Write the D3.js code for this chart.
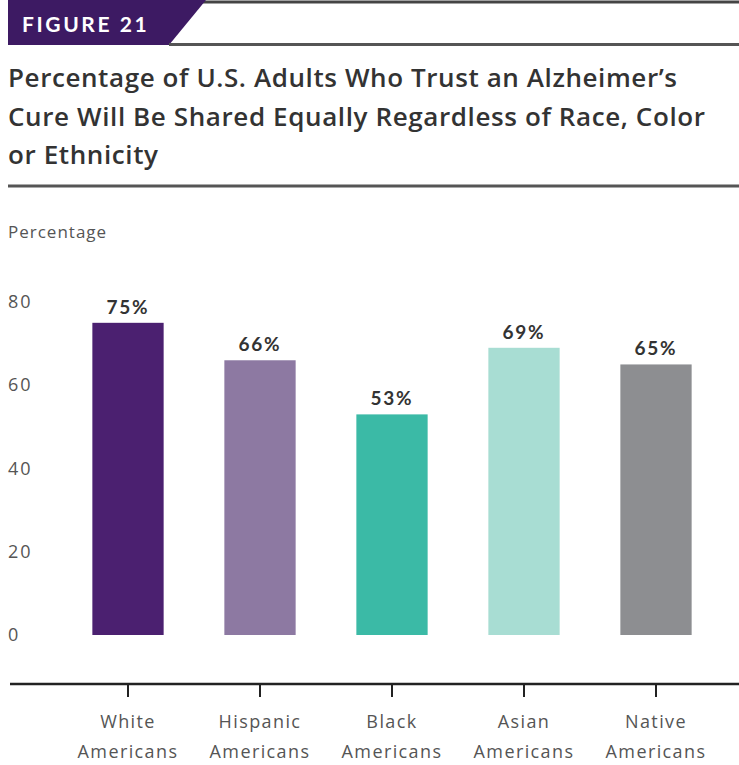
<!DOCTYPE html>
<html><head><meta charset="utf-8">
<script src="https://cdn.jsdelivr.net/npm/d3@7"></script>
<style>body{margin:0;background:#fff}svg{display:block}</style>
</head><body>
<script>
const categories = [["White","Americans"],["Hispanic","Americans"],["Black","Americans"],["Asian","Americans"],["Native","Americans"]];
const values = [75, 66, 53, 69, 65];
const valueLabels = ["75%","66%","53%","69%","65%"];
const barColors = ["#4b2070","#8d79a2","#3bbaa6","#a8ddd3","#8d8e91"];
const yTicks = [0, 20, 40, 60, 80];
const titleLines = ["Percentage of U.S. Adults Who Trust an Alzheimer\u2019s","Cure Will Be Shared Equally Regardless of Race, Color","or Ethnicity"];
const titleWidths = [669, 697, 150];

const W = 739, H = 765;
const svg = d3.select("body").append("svg").attr("width", W).attr("height", H);

// header
svg.append("line").attr("x1",150).attr("x2",W).attr("y1",2).attr("y2",2).attr("stroke","#444").attr("stroke-width",3);
svg.append("path").attr("d","M8,0 L206,0 L169,45 L8,45 Z").attr("fill","#3d1a63");
svg.append("line").attr("x1",169).attr("x2",W).attr("y1",44.5).attr("y2",44.5).attr("stroke","#555").attr("stroke-width",3);
svg.append("text").attr("x",22).attr("y",32).attr("fill","#fff").attr("font-family","Lato, sans-serif").attr("font-weight",700).attr("font-size",21).attr("letter-spacing",2.6).text("FIGURE 21");

svg.append("g").selectAll("text").data(titleLines).join("text")
  .attr("x",8).attr("y",(d,i)=>87+i*38.5)
  .attr("fill","#333").attr("font-family","'Open Sans', sans-serif").attr("font-weight",600).attr("font-size",26)
  .attr("textLength",(d,i)=>titleWidths[i]).attr("lengthAdjust","spacing")
  .text(d=>d);
svg.append("line").attr("x1",8).attr("x2",W).attr("y1",186).attr("y2",186).attr("stroke","#555").attr("stroke-width",3);

svg.append("text").attr("x",8).attr("y",238).attr("fill","#555").attr("font-family","'Open Sans', sans-serif").attr("font-size",17).attr("letter-spacing",1).text("Percentage");

// scales
const x = d3.scaleBand().domain(d3.range(values.length)).range([62, 722]).paddingInner(0.46).paddingOuter(0.23);
const y = d3.scaleLinear().domain([0, 80]).range([635, 302]);

// y tick labels
svg.append("g").selectAll("text").data(yTicks).join("text")
  .attr("x",8).attr("y",d=>y(d)+6).attr("fill","#555")
  .attr("font-family","'Open Sans', sans-serif").attr("font-size",18).attr("letter-spacing",2).text(d=>d);

// bars
svg.append("g").selectAll("rect").data(values).join("rect")
  .attr("x",(d,i)=>x(i)).attr("width",x.bandwidth())
  .attr("y",d=>y(d)).attr("height",d=>y(0)-y(d))
  .attr("fill",(d,i)=>barColors[i]);

svg.append("g").selectAll("text").data(values).join("text")
  .attr("x",(d,i)=>x(i)+x.bandwidth()/2).attr("y",d=>y(d)-9)
  .attr("text-anchor","middle").attr("fill","#333")
  .attr("font-family","Lato, sans-serif").attr("font-weight",700).attr("font-size",19).attr("letter-spacing",1.8)
  .text((d,i)=>valueLabels[i]);

// x axis
const axisY = 684;
const xAxis = d3.axisBottom(x).tickSize(13).tickFormat("");
const gx = svg.append("g").attr("transform",`translate(0,${axisY})`).call(xAxis);
gx.select(".domain").remove();
gx.selectAll(".tick line").attr("stroke","#222").attr("stroke-width",2);
svg.append("line").attr("x1",10).attr("x2",W).attr("y1",axisY).attr("y2",axisY).attr("stroke","#222").attr("stroke-width",2.5);

const lab = svg.append("g").selectAll("text").data(categories).join("text")
  .attr("x",(d,i)=>x(i)+x.bandwidth()/2).attr("text-anchor","middle")
  .attr("fill","#555").attr("font-family","'Open Sans', sans-serif").attr("font-size",18).attr("letter-spacing",1.4);
lab.selectAll("tspan").data(d=>d).join("tspan")
  .attr("x",function(){return d3.select(this.parentNode).attr("x");})
  .attr("y",(d,j)=>728+j*30).text(d=>d);
</script>
</body></html>
